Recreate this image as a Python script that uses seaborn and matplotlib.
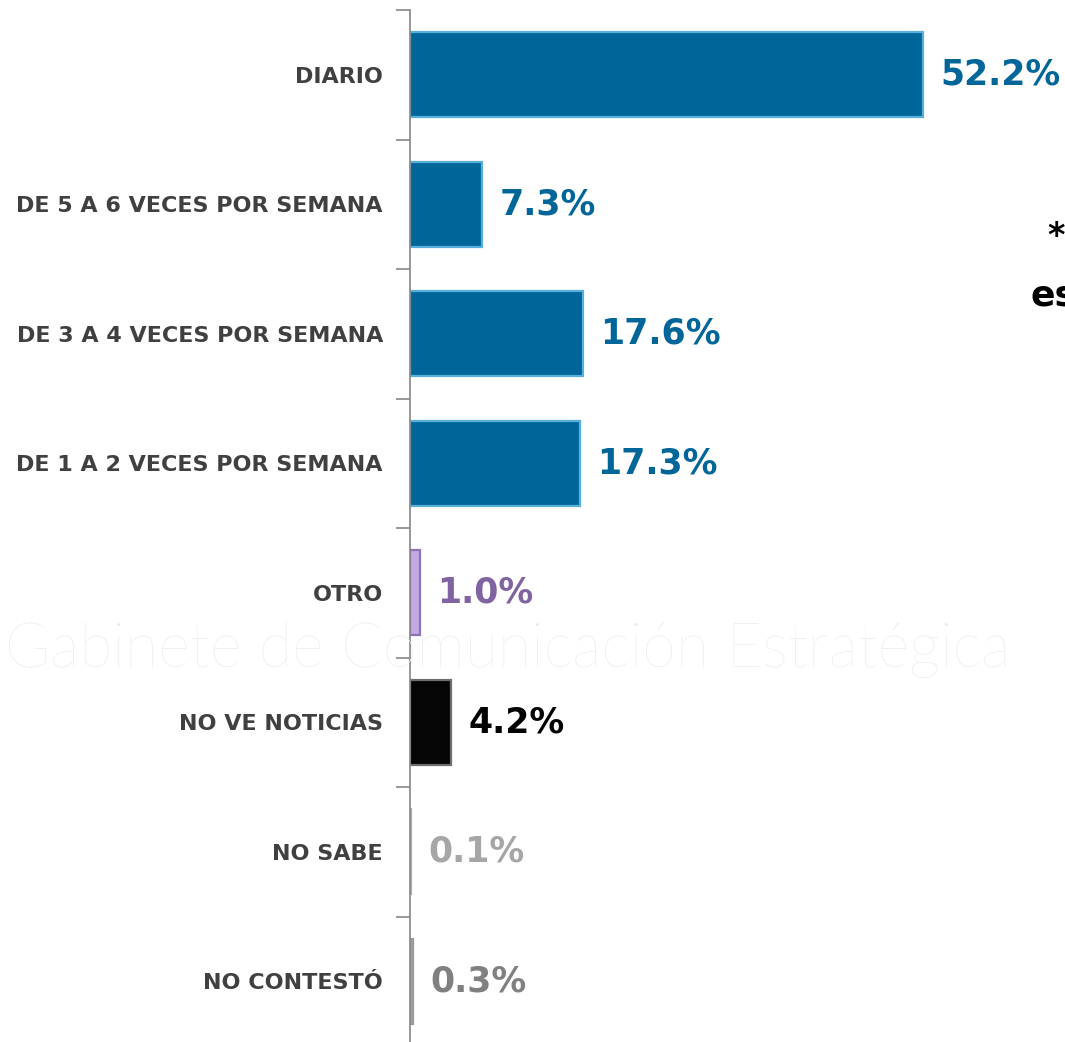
import matplotlib
matplotlib.use("Agg")
import matplotlib.pyplot as plt
import seaborn as sns
import pandas as pd

categories = ["DIARIO", "DE 5 A 6 VECES POR SEMANA", "DE 3 A 4 VECES POR SEMANA",
              "DE 1 A 2 VECES POR SEMANA", "OTRO", "NO VE NOTICIAS", "NO SABE", "NO CONTESTÓ"]
values = [52.2, 7.3, 17.6, 17.3, 1.0, 4.2, 0.1, 0.3]
value_labels = ["52.2%", "7.3%", "17.6%", "17.3%", "1.0%", "4.2%", "0.1%", "0.3%"]
bar_colors = ["#00669A", "#00669A", "#00669A", "#00669A", "#C3A9E6", "#050505", "#C8C8C8", "#A6A6A6"]
edge_colors = ["#5AAEDC", "#5AAEDC", "#5AAEDC", "#5AAEDC", "#8E72B8", "#6E6E6E", "#B0B0B0", "#9A9A9A"]
label_colors = ["#00669A", "#00669A", "#00669A", "#00669A", "#8064A2", "#000000", "#A6A6A6", "#808080"]

df = pd.DataFrame({"cat": categories, "val": values})

sns.set_theme(style="white")
plt.rcParams["font.family"] = ["DejaVu Sans"]

fig = plt.figure(figsize=(10.65, 10.42), dpi=100)

# faint watermark
fig.text(1010 / 1065, 1 - 650 / 1042, "Gabinete de Comunicación Estratégica",
         ha="right", va="center", fontsize=44, color="#ECECEC",
         family=["Lato", "DejaVu Sans"], fontweight="light", zorder=0)

ax = fig.add_axes([410 / 1065, -4 / 1042, 655 / 1065, 1036 / 1042])
ax.patch.set_alpha(0)

sns.barplot(data=df, x="val", y="cat", hue="cat", palette=bar_colors, legend=False,
            width=0.66, ax=ax, orient="h", saturation=1)

for patch, ec in zip(ax.patches, edge_colors):
    patch.set_edgecolor(ec)
    patch.set_linewidth(1.6)

ax.set_xlim(0, 66.6)
ax.set_xlabel("")
ax.set_ylabel("")
ax.set_xticks([])

for i, (v, lab, col) in enumerate(zip(values, value_labels, label_colors)):
    ax.annotate(lab, xy=(v, i), xytext=(12.5, 0), textcoords="offset points",
                ha="left", va="center", fontsize=25, fontweight="bold", color=col,
                annotation_clip=False)

ax.tick_params(axis="y", which="major", length=0, pad=19.5, labelsize=16,
               labelcolor="#404040")
for t in ax.get_yticklabels():
    t.set_fontweight("bold")
ax.set_yticks(range(len(categories)), minor=False)
ax.set_yticks([i - 0.5 for i in range(len(categories) + 1)], minor=True)
ax.tick_params(axis="y", which="minor", length=10, width=1.2, color="#868686", left=True)

for s in ["top", "right", "bottom"]:
    ax.spines[s].set_visible(False)
ax.spines["left"].set_color("#868686")
ax.spines["left"].set_linewidth(1.2)

fig.text(1047 / 1065, 1 - 236 / 1042, "*", ha="left", va="center", fontsize=24,
         fontweight="bold", color="#000000")
fig.text(1030 / 1065, 1 - 296 / 1042, "es", ha="left", va="center", fontsize=26,
         fontweight="bold", color="#000000")

fig.savefig("out.png", dpi=100)
